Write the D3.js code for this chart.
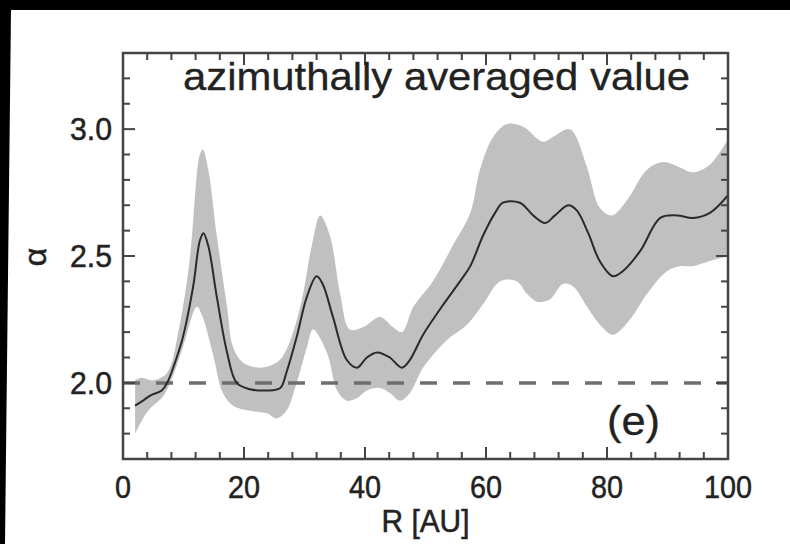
<!DOCTYPE html>
<html>
<head>
<meta charset="utf-8">
<script src="https://cdn.jsdelivr.net/npm/d3@7"></script>
<style>
  html, body { margin: 0; padding: 0; background: #000; }
  svg { display: block; }
</style>
</head>
<body>
<div id="chart"></div>
<script>
// Azimuthally averaged alpha profile vs radius, with spread band

// mean curve
var meanR = [2, 3.3, 4.5, 6.4, 7.3, 8.3, 9.9, 11.6, 12.7, 13.3, 14.1, 15.5, 17.2, 18.8, 21, 23.8, 26, 27, 28.7, 30.4, 32, 33, 34.7, 37, 38.7, 40.3, 42, 44.1, 46.1, 47.4, 49.6, 52.4, 55.7, 57.4, 59.5, 61.5, 62.8, 65.6, 67.8, 69.8, 71.4, 73.6, 75, 76.9, 78.8, 81, 82.6, 85.5, 88.8, 91.6, 94.2, 97, 100];
var meanA = [1.91, 1.93, 1.95, 1.97, 2.0, 2.06, 2.18, 2.38, 2.56, 2.59, 2.54, 2.34, 2.12, 2.0, 1.975, 1.97, 1.98, 2.04, 2.18, 2.34, 2.42, 2.39, 2.26, 2.09, 2.06, 2.10, 2.12, 2.10, 2.06, 2.09, 2.19, 2.29, 2.40, 2.46, 2.58, 2.67, 2.71, 2.71, 2.66, 2.63, 2.66, 2.70, 2.68, 2.59, 2.48, 2.42, 2.44, 2.52, 2.65, 2.66, 2.65, 2.67, 2.74];

// upper edge of the band
var upperR = [2, 3, 5, 7.3, 9.3, 11, 12.7, 13.2, 14.1, 15.5, 17.2, 18.2, 19.8, 22.6, 25.4, 27, 29.3, 31.2, 32.6, 34.2, 35.9, 37.5, 39.7, 42.5, 44.6, 46.1, 48, 51.2, 54.5, 57.4, 59, 61.2, 63.5, 66.1, 69.4, 71.1, 73.4, 74.4, 76.7, 78.8, 80.8, 83.3, 86.6, 89.3, 92, 94.2, 97, 100];
var upperA = [2.01, 2.02, 2.01, 2.04, 2.22, 2.48, 2.90, 2.92, 2.84, 2.58, 2.30, 2.14, 2.08, 2.06, 2.08, 2.13, 2.30, 2.54, 2.66, 2.58, 2.35, 2.21, 2.22, 2.26, 2.22, 2.20, 2.30, 2.40, 2.54, 2.67, 2.84, 2.97, 3.02, 3.01, 2.95, 2.97, 3.0, 2.99, 2.85, 2.69, 2.66, 2.72, 2.84, 2.87, 2.85, 2.83, 2.86, 2.96];

// lower edge of the band
var lowerR = [2, 3.3, 4.5, 6.4, 7.8, 9.9, 12.2, 13, 14.9, 16.5, 18.2, 21, 23.8, 25.4, 27, 28.7, 30.4, 31.4, 33.7, 35.4, 37, 38.7, 40.3, 42.5, 44.1, 45.8, 47.4, 49.6, 53.6, 56.9, 59.5, 62.3, 65.1, 66.8, 68.4, 70.6, 72.7, 74.4, 76.7, 78.8, 81, 83.8, 86.6, 89.9, 92, 94.2, 97, 100];
var lowerA = [1.80, 1.86, 1.90, 1.94, 2.0, 2.14, 2.30, 2.27, 2.11, 1.96, 1.91, 1.89, 1.88, 1.86, 1.89, 2.0, 2.14, 2.21, 2.12, 1.97, 1.93, 1.94, 1.97, 1.98, 1.96, 1.93, 1.96, 2.06, 2.17, 2.23, 2.31, 2.40, 2.40, 2.35, 2.32, 2.33, 2.39, 2.38, 2.30, 2.23, 2.19, 2.25, 2.35, 2.44, 2.46, 2.46, 2.48, 2.50];

var xTicks = [0, 20, 40, 60, 80, 100];
var yTicks = [2.0, 2.5, 3.0];
var refLevel = 2.0;

(function () {
  'use strict';

  var W = 790, H = 544;
  var left = 123, right = 728, top = 53, bottom = 459;
  var FONT = '"Liberation Sans", Arial, Helvetica, sans-serif';
  var INK = '#444';

  var svg = d3.select('#chart').append('svg')
    .attr('width', W)
    .attr('height', H);

  // black scan border, paper on top
  svg.append('rect').attr('width', W).attr('height', H).attr('fill', '#000');
  svg.append('polygon')
    .attr('points', '11,10 790,10 790,544 5,544')
    .attr('fill', '#fff');

  var x = d3.scaleLinear().domain([0, 100]).range([left, right]);
  var y = d3.scaleLinear().domain([1.7, 3.3]).range([bottom, top]);

  function pairs(rs, as) {
    return rs.map(function (r, i) { return [r, as[i]]; });
  }

  var line = d3.line()
    .x(function (d) { return x(d[0]); })
    .y(function (d) { return y(d[1]); })
    .curve(d3.curveCatmullRom.alpha(0.5));

  // clip everything to the frame
  svg.append('clipPath').attr('id', 'frame')
    .append('rect')
    .attr('x', left).attr('y', top)
    .attr('width', right - left).attr('height', bottom - top);

  var plot = svg.append('g').attr('clip-path', 'url(#frame)');

  // spread band: upper edge forward, lower edge back
  var up = pairs(upperR, upperA);
  var lo = pairs(lowerR, lowerA).reverse();
  var bandPath = line(up) + 'L' + line(lo).slice(1) + 'Z';
  plot.append('path')
    .attr('d', bandPath)
    .attr('fill', '#c0c0c0')
    .attr('stroke', 'none');

  // reference level
  plot.append('line')
    .attr('x1', left).attr('x2', right)
    .attr('y1', y(refLevel)).attr('y2', y(refLevel))
    .attr('stroke', '#6e6e6e')
    .attr('stroke-width', 3.5)
    .attr('stroke-dasharray', '17,16');

  // mean curve
  plot.append('path')
    .attr('d', line(pairs(meanR, meanA)))
    .attr('fill', 'none')
    .attr('stroke', '#2a2a2a')
    .attr('stroke-width', 2);

  // ticks on all four sides, pointing inward
  var tickG = svg.append('g').attr('stroke', INK).attr('stroke-width', 2);
  d3.range(0, 100.01, 4).forEach(function (v) {
    var major = xTicks.indexOf(Math.round(v)) >= 0;
    var len = major ? 12 : 7;
    tickG.append('line').attr('x1', x(v)).attr('x2', x(v))
      .attr('y1', bottom).attr('y2', bottom - len);
    tickG.append('line').attr('x1', x(v)).attr('x2', x(v))
      .attr('y1', top).attr('y2', top + len);
  });
  d3.range(17, 33.01, 1).forEach(function (k) {
    var v = k / 10;
    var major = (k % 5) === 0;
    var len = major ? 12 : 7;
    tickG.append('line').attr('x1', left).attr('x2', left + len)
      .attr('y1', y(v)).attr('y2', y(v));
    tickG.append('line').attr('x1', right).attr('x2', right - len)
      .attr('y1', y(v)).attr('y2', y(v));
  });

  // frame
  svg.append('rect')
    .attr('x', left).attr('y', top)
    .attr('width', right - left).attr('height', bottom - top)
    .attr('fill', 'none')
    .attr('stroke', INK)
    .attr('stroke-width', 2.5);

  // tick labels (slightly heavier, narrow like the scan)
  var text = svg.append('g')
    .attr('font-family', FONT)
    .attr('fill', '#222')
    .attr('stroke', '#222')
    .attr('stroke-width', 0.5);

  xTicks.forEach(function (v) {
    var s = String(v);
    text.append('text')
      .attr('x', x(v)).attr('y', 498)
      .attr('text-anchor', 'middle')
      .attr('font-size', 32)
      .attr('textLength', s.length * 16)
      .attr('lengthAdjust', 'spacingAndGlyphs')
      .text(s);
  });
  yTicks.forEach(function (v) {
    text.append('text')
      .attr('x', 112).attr('y', y(v))
      .attr('dy', '0.35em')
      .attr('text-anchor', 'end')
      .attr('font-size', 32)
      .attr('textLength', 42)
      .attr('lengthAdjust', 'spacingAndGlyphs')
      .text(v.toFixed(1));
  });

  // axis titles
  text.append('text')
    .attr('x', (left + right) / 2).attr('y', 532)
    .attr('text-anchor', 'middle')
    .attr('font-size', 31)
    .attr('textLength', 88)
    .attr('lengthAdjust', 'spacingAndGlyphs')
    .text('R [AU]');

  text.append('text')
    .attr('transform', 'translate(46,257) rotate(-90)')
    .attr('text-anchor', 'middle')
    .attr('font-size', 32)
    .text('α');

  // in-panel labels
  text.append('text')
    .attr('x', 183).attr('y', 90)
    .attr('font-size', 38)
    .attr('textLength', 507)
    .attr('lengthAdjust', 'spacingAndGlyphs')
    .attr('stroke-width', 0.3)
    .text('azimuthally averaged value');

  text.append('text')
    .attr('x', 607).attr('y', 435)
    .attr('font-size', 40)
    .attr('textLength', 53)
    .attr('lengthAdjust', 'spacingAndGlyphs')
    .attr('stroke-width', 0.3)
    .text('(e)');
})();
</script>
</body>
</html>
